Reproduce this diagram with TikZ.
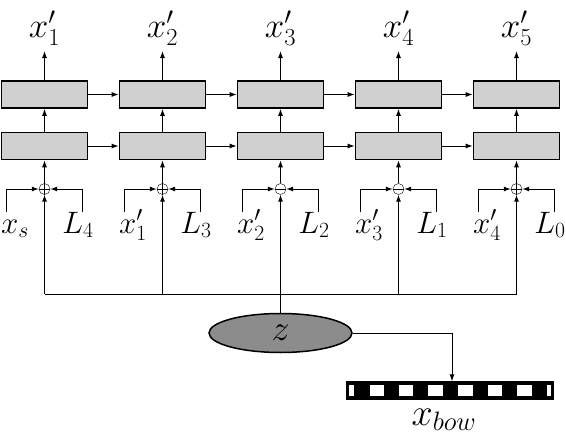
\RequirePackage{fix-cm}
\documentclass[tikz,border=0pt]{standalone}
\usetikzlibrary{arrows.meta,shapes.geometric,calc}
\definecolor{boxgray}{HTML}{D0D0D0}
\definecolor{zgray}{HTML}{8C8C8C}
\begin{document}
\begin{tikzpicture}[x=1pt,y=-1pt,
  cell/.style={draw, line width=1.6pt, fill=boxgray, minimum width=86pt, minimum height=27pt, inner sep=0pt},
  arr/.style={-{Latex[length=7pt,width=5pt]}, line width=1pt},
  ln/.style={line width=1pt},
  sumc/.style={circle, draw, line width=0.4pt, minimum size=11pt, inner sep=0pt},
  toplab/.style={font=\fontsize{35}{40}\selectfont, inner sep=0pt, anchor=base},
  lowlab/.style={font=\fontsize{31}{34}\selectfont, inner sep=0pt, anchor=base},
  zell/.style={ellipse, draw, line width=1.5pt, fill=zgray, minimum width=143pt, minimum height=39pt, inner sep=0pt, font=\fontsize{36}{40}\selectfont},
]
\useasboundingbox (0,0) rectangle (566,434);
% columns
\foreach \i/\lft/\rgt/\top in {1/x_s/L_4/x'_1, 2/x'_1/L_3/x'_2, 3/x'_2/L_2/x'_3, 4/x'_3/L_1/x'_4, 5/x'_4/L_0/x'_5}{
  \pgfmathsetmacro{\cx}{44.5+118*(\i-1)}
  \node[cell] (t\i) at (\cx,94.5) {};
  \node[cell] (b\i) at (\cx,146) {};
  \node[sumc] (c\i) at (\cx,189) {};
  \node[toplab] (o\i) at (\cx,37) {$\top$};
  \coordinate (ot\i) at (\cx,51);
  \coordinate (lv\i) at (\cx-38.5,212);
  \coordinate (lh\i) at (\cx-38.5,189);
  \coordinate (rv\i) at (\cx+37.5,212);
  \coordinate (rh\i) at (\cx+37.5,189);
  \coordinate (bl\i) at (\cx,294);
  \node[lowlab] (il\i) at (\cx-29.5,233) {$\lft$};
  \node[lowlab] (ir\i) at (\cx+33.5,233) {$\rgt$};
  \draw[arr] (t\i.north) -- (ot\i);
  \draw[arr] (b\i.north) -- (t\i.south);
  \draw[arr] (c\i.north) -- (b\i.south);
  \draw[arr] (lv\i) -- (lh\i) -- (c\i.west);
  \draw[arr] (rv\i) -- (rh\i) -- (c\i.east);
  \draw[arr] (bl\i) -- (c\i.south);
  \draw[line width=0.4pt] (c\i.west) -- (c\i.east);
}
\foreach \i in {1,2,5}{\draw[line width=0.4pt] (c\i.north) -- (c\i.south);}
\foreach \i/\j in {1/2,2/3,3/4,4/5}{
  \draw[arr] (t\i.east) -- (t\j.west);
  \draw[arr] (b\i.east) -- (b\j.west);
}
\draw[ln] (bl1) -- (bl5);
% latent
\node[zell] (z) at (280.5,333) {$z$};
\draw[ln] (z.north) -- (z.north |- bl1);
% bag of words bar
\node[draw, line width=1.2pt, fill=black, minimum width=206pt, minimum height=17pt, inner sep=0pt] (bar) at (450,390.5) {};
\foreach \a/\b in {349/354, 370/384, 399/413, 428/443, 458/473, 488/502, 517/532, 547/551}{
  \fill[white] (\a,385) rectangle (\b,396);
}
\coordinate (zb) at (452,333);
\draw[arr] (z.east) -- (zb) -- (zb |- bar.north);
\node[font=\fontsize{38}{42}\selectfont, inner sep=0pt, anchor=base] (xb) at (444,425) {$x_{bow}$};
\end{tikzpicture}
\end{document}
